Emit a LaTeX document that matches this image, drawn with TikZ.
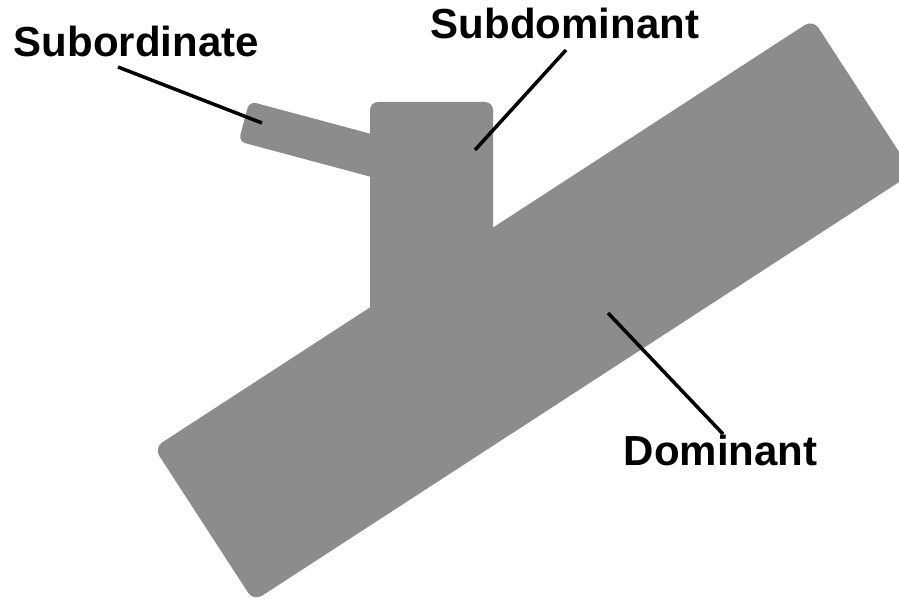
\documentclass[tikz,border=0pt]{standalone}
\usepackage{fontspec}
\setmainfont{Liberation Sans}
\definecolor{shapegray}{HTML}{8C8C8C}
\tikzset{
  part/.style={fill=shapegray, draw=none, rectangle, inner sep=0pt},
  lbl/.style={font=\fontsize{42}{50}\selectfont\bfseries, inner sep=0pt, anchor=base west, text=black},
  leader/.style={draw=black, line width=3.5pt}
}
\begin{document}
\begin{tikzpicture}[x=1pt, y=-1pt]
  \useasboundingbox (0,0) rectangle (899,599);
  \clip (0,0) rectangle (899,599);
  % shapes
  \node[part, minimum width=786pt, minimum height=183pt, rounded corners=10pt, rotate=33] (dominant) at (533.4,310.4) {};
  \node[part, minimum width=123pt, minimum height=258pt, rounded corners=8pt] (subdominant) at (431.5,231) {};
  \node[part, minimum width=182pt, minimum height=41.5pt, rounded corners=7pt, rotate=-15] (subordinate) at (331.9,144.9) {};
  % labels
  \node[lbl] (tSubord) at (13.5,57) {Subordinate};
  \node[lbl] (tSubdom) at (430.5,39) {Subdominant};
  \node[lbl] (tDom) at (623.5,465) {Dominant};
  % leader line ends
  \coordinate (aSubord) at (118,67);
  \coordinate (bSubord) at (262,123);
  \coordinate (aSubdom) at (566,50);
  \coordinate (bSubdom) at (475,150);
  \coordinate (aDom) at (723,434);
  \coordinate (bDom) at (608,313);
  \draw[leader] (aSubord) -- (bSubord);
  \draw[leader] (aSubdom) -- (bSubdom);
  \draw[leader] (aDom) -- (bDom);
\end{tikzpicture}
\end{document}
